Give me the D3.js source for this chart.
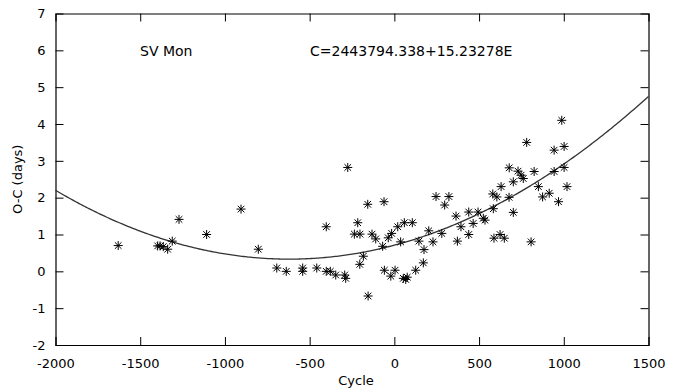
<!DOCTYPE html>
<html>
<head>
<meta charset="utf-8">
<script src="https://cdn.jsdelivr.net/npm/d3@7"></script>
<style>
  html, body { margin: 0; padding: 0; background: #fff; }
  svg { display: block; font-family: "DejaVu Sans", sans-serif; }
</style>
</head>
<body>
<div id="chart"></div>
<script>
// observed times of maximum: cycle number E and O-C residual (days)
const cycles = [
  -1630, -1397, -1383, -1364, -1338, -1311, -1271, -1108, -905, -803,
  -694, -638, -541, -541, -458, -402, -378, -402, -346, -293,
  -287, -275, -216, -236, -203, -183, -204, -155, -157, -132,
  -110, -61, -69, -36, -16, 20, 59, 106, 37, -59,
  -21, 4, 53, 76, 67, 126, 171, 145, 175, 203,
  228, 280, 246, 322, 297, 364, 393, 372, 439, 439,
  465, 494, 525, 535, 581, 605, 584, 588, 624, 649,
  630, 677, 678, 702, 702, 730, 748, 761, 781, 807,
  825, 850, 875, 914, 943, 943, 969, 988, 1002, 1002,
  1019
];
const residuals = [
  0.70, 0.69, 0.69, 0.67, 0.60, 0.82, 1.41, 1.00, 1.69, 0.60,
  0.09, 0.00, 0.09, 0.00, 0.09, 0.00, 0.00, 1.21, -0.10, -0.10,
  -0.19, 2.82, 1.32, 1.01, 1.01, 0.41, 0.19, -0.67, 1.82, 1.01,
  0.88, 1.89, 0.68, 0.91, 1.03, 1.21, 1.32, 1.32, 0.80, 0.03,
  -0.13, 0.03, -0.19, -0.16, -0.22, 0.03, 0.23, 0.82, 0.59, 1.10,
  0.80, 1.03, 2.03, 2.03, 1.80, 1.50, 1.21, 0.82, 1.61, 1.00,
  1.30, 1.61, 1.44, 1.39, 2.10, 2.02, 1.70, 0.90, 1.00, 0.90,
  2.30, 2.01, 2.81, 2.43, 1.60, 2.72, 2.61, 2.52, 3.50, 0.80,
  2.71, 2.30, 2.02, 2.12, 3.29, 2.71, 1.89, 4.10, 3.39, 2.82,
  2.30
];

// quadratic fit O-C = a0 + a1*E + a2*E^2
const fitCoef = [0.71, 1.2198e-3, 9.824e-7];

const xTicks = [-2000, -1500, -1000, -500, 0, 500, 1000, 1500];
const yTicks = [-2, -1, 0, 1, 2, 3, 4, 5, 6, 7];

const starName = 'SV Mon';
const ephemeris = 'C=2443794.338+15.23278E';

const W = 678, H = 390;
const margin = { top: 13.5, right: 29.5, bottom: 45, left: 55.5 };

const svg = d3.select('#chart').append('svg')
  .attr('width', W)
  .attr('height', H);

const x = d3.scaleLinear()
  .domain([xTicks[0], xTicks[xTicks.length - 1]])
  .range([margin.left, W - margin.right]);
const y = d3.scaleLinear()
  .domain([yTicks[0], yTicks[yTicks.length - 1]])
  .range([H - margin.bottom, margin.top]);

const tickLen = 8;
const fontSize = '13px';
const plain = d => String(d);

// axes: gnuplot style, ticks inward and mirrored
const axBottom = svg.append('g')
  .attr('transform', `translate(0,${y.range()[0]})`)
  .call(d3.axisBottom(x).tickValues(xTicks).tickSize(-tickLen).tickPadding(14).tickFormat(plain));
const axTop = svg.append('g')
  .attr('transform', `translate(0,${y.range()[1]})`)
  .call(d3.axisTop(x).tickValues(xTicks).tickSize(-tickLen).tickFormat(''));
const axLeft = svg.append('g')
  .attr('transform', `translate(${x.range()[0]},0)`)
  .call(d3.axisLeft(y).tickValues(yTicks).tickSize(-tickLen).tickPadding(10).tickFormat(plain));
const axRight = svg.append('g')
  .attr('transform', `translate(${x.range()[1]},0)`)
  .call(d3.axisRight(y).tickValues(yTicks).tickSize(-tickLen).tickFormat(''));

[axBottom, axTop, axLeft, axRight].forEach(g => {
  g.select('.domain').attr('stroke', '#000').attr('stroke-width', 1.2);
  g.selectAll('.tick line').attr('stroke', '#000').attr('stroke-width', 1);
  g.selectAll('.tick text')
    .style('font-family', '"DejaVu Sans", sans-serif')
    .style('font-size', fontSize)
    .attr('fill', '#000');
});
// hide end ticks that sit on the frame
[axBottom, axTop].forEach(g => g.selectAll('.tick line').filter(d => d === xTicks[0] || d === xTicks[xTicks.length - 1]).remove());
[axLeft, axRight].forEach(g => g.selectAll('.tick line').filter(d => d === yTicks[0] || d === yTicks[yTicks.length - 1]).remove());

// fitted parabola
const fit = e => fitCoef[0] + fitCoef[1] * e + fitCoef[2] * e * e;
const curveX = d3.range(x.domain()[0], x.domain()[1] + 1, 10);
svg.append('path')
  .datum(curveX)
  .attr('fill', 'none')
  .attr('stroke', '#333')
  .attr('stroke-width', 1.3)
  .attr('d', d3.line().x(d => x(d)).y(d => y(fit(d))));

// asterisk markers
const r = 4.5, rd = 3.3;
const star = `M${-r},0H${r}M0,${-r}V${r}M${-rd},${-rd}L${rd},${rd}M${-rd},${rd}L${rd},${-rd}`;
svg.append('g')
  .selectAll('path')
  .data(cycles.map((c, i) => ({ c, v: residuals[i] })))
  .join('path')
    .attr('transform', d => `translate(${x(d.c)},${y(d.v)})`)
    .attr('d', star)
    .attr('fill', 'none')
    .attr('stroke', '#000')
    .attr('stroke-width', 1);

// labels
svg.append('text')
  .attr('x', 140).attr('y', 56)
  .style('font-size', '14px')
  .text(starName);
svg.append('text')
  .attr('x', 310).attr('y', 56)
  .style('font-size', '14px')
  .text(ephemeris);

svg.append('text')
  .attr('x', 356)
  .attr('y', 385)
  .attr('text-anchor', 'middle')
  .style('font-size', fontSize)
  .text('Cycle');
svg.append('text')
  .attr('transform', `translate(22,${(y.range()[0] + y.range()[1]) / 2}) rotate(-90)`)
  .attr('text-anchor', 'middle')
  .style('font-size', fontSize)
  .text('O-C (days)');
</script>
</body>
</html>
